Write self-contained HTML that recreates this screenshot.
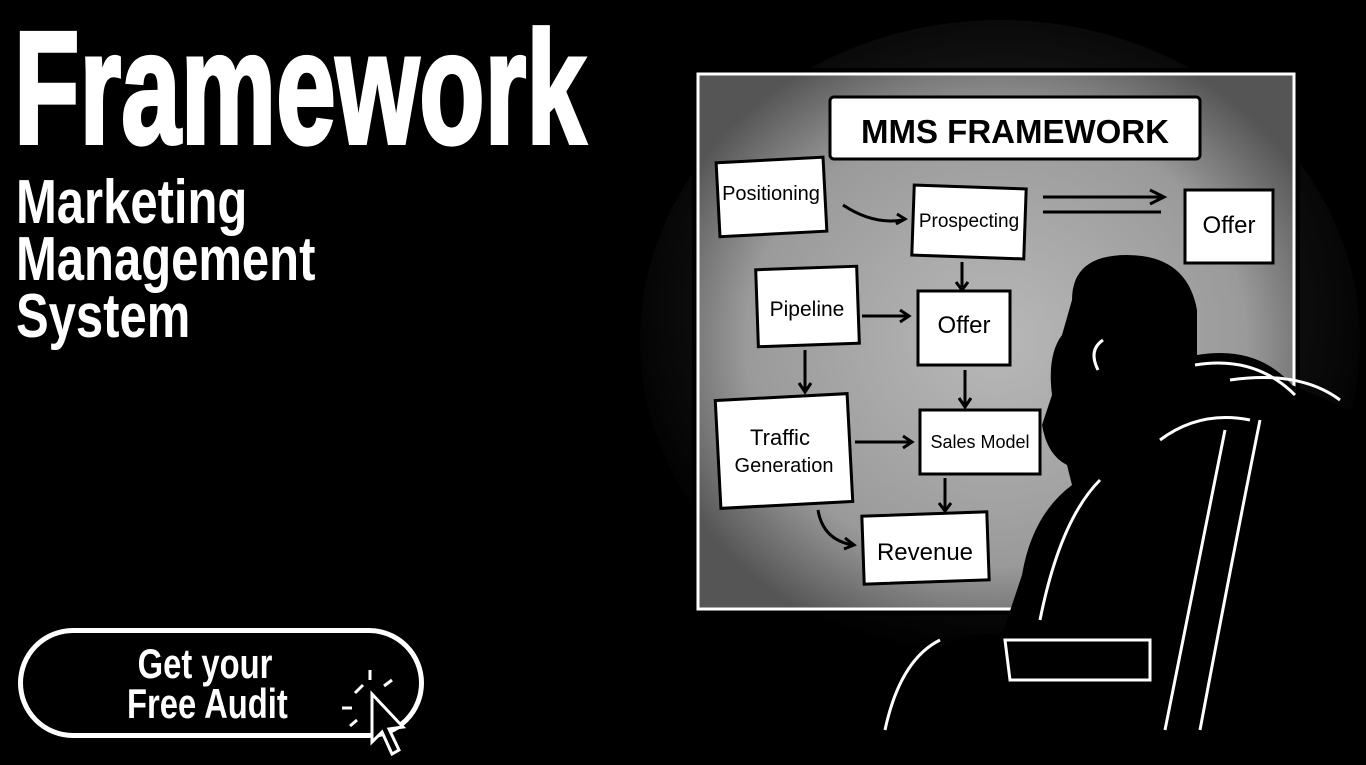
<!DOCTYPE html>
<html><head><meta charset="utf-8"><style>
html,body{margin:0;padding:0;background:#000;width:1366px;height:765px;overflow:hidden}
.t{position:absolute;color:#fff;font-family:"Liberation Sans",sans-serif;font-weight:bold;transform-origin:0 0;white-space:nowrap}
</style></head><body>
<div class="t" style="left:14px;top:8px;font-size:160px;line-height:160px;transform:scaleX(0.67);-webkit-text-stroke:4px #fff">Framework</div>
<div class="t" style="left:16px;top:174px;font-size:62px;line-height:57px;transform:scaleX(0.79)">Marketing<br>Management<br>System</div>
<div style="position:absolute;left:18px;top:628px;width:396px;height:100px;border:5px solid #fff;border-radius:55px"></div>
<div class="t" style="left:105px;top:644px;width:200px;text-align:center;font-size:42px;line-height:40px;transform:scaleX(0.78);transform-origin:50% 0">Get your<br>Free Audit</div>
<svg style="position:absolute;left:0;top:0" width="1366" height="765">
<defs>
<radialGradient id="g" cx="0.5" cy="0.5" r="0.6"><stop offset="0" stop-color="#b8b8b8"/><stop offset="0.7" stop-color="#9a9a9a"/><stop offset="1" stop-color="#555"/></radialGradient>
<radialGradient id="glow" cx="0.5" cy="0.45" r="0.55"><stop offset="0.6" stop-color="#555"/><stop offset="1" stop-color="#000"/></radialGradient>
</defs>
<g stroke="#fff" stroke-width="3" fill="none">
<path d="M355 693l8 -8M370 680v-10M384 686l8-6M352 708h-10M357 720l-7 6"/>
</g>
<path d="M372 694l0 48 10-10 10 22 7-4-10-21 14-2z" fill="#000" stroke="#fff" stroke-width="3"/>
<ellipse cx="1000" cy="340" rx="360" ry="320" fill="url(#glow)" opacity="0.25"/>
<rect x="692" y="68" width="608" height="547" fill="#000"/>
<rect x="698" y="74" width="596" height="535" fill="url(#g)" stroke="#fff" stroke-width="3"/>
<g fill="#fff" stroke="#000" stroke-width="3">
<rect x="830" y="97" width="370" height="62" rx="4"/>
<rect x="718" y="160" width="107" height="74" transform="rotate(-3 771 197)"/>
<rect x="913" y="187" width="112" height="70" transform="rotate(2 969 222)"/>
<rect x="1185" y="190" width="88" height="73"/>
<rect x="757" y="268" width="101" height="77" transform="rotate(-2 807 306)"/>
<rect x="918" y="291" width="92" height="74"/>
<rect x="718" y="397" width="132" height="108" transform="rotate(-3 784 451)"/>
<rect x="920" y="410" width="120" height="64"/>
<rect x="863" y="514" width="125" height="68" transform="rotate(-2 925 548)"/>
</g>
<g font-family="'Liberation Sans',sans-serif" fill="#000" text-anchor="middle">
<text x="1015" y="143" font-size="33" font-weight="bold">MMS FRAMEWORK</text>
<text x="771" y="200" font-size="20">Positioning</text>
<text x="969" y="227" font-size="19">Prospecting</text>
<text x="1229" y="233" font-size="24">Offer</text>
<text x="807" y="316" font-size="21">Pipeline</text>
<text x="964" y="333" font-size="24">Offer</text>
<text x="780" y="445" font-size="22">Traffic</text>
<text x="784" y="472" font-size="20">Generation</text>
<text x="980" y="448" font-size="18">Sales Model</text>
<text x="925" y="560" font-size="24">Revenue</text>
</g>
<g stroke="#000" stroke-width="3" fill="none">
<path d="M843 205q30 20 60 15M897 214l8 5-9 5"/>
<path d="M1043 197h118M1150 190l14 7-14 7"/>
<path d="M1043 212h118"/>
<path d="M862 316h45M900 310l9 6-9 6"/>
<path d="M805 350v40M799 383l6 9 6-9"/>
<path d="M962 262v25M956 282l6 8 6-8"/>
<path d="M965 370v35M959 398l6 9 6-9"/>
<path d="M855 442h55M903 436l9 6-9 6"/>
<path d="M945 478v32M939 503l6 8 6-8"/>
<path d="M818 510q5 30 35 35M845 538l9 7-10 4"/>
</g>
<path d="M1072 300q0-45 55-45q60 0 70 55l0 45q60 -10 95 30l70 30v350h-480l20-70q40-70 100-60l20-60q10-60 50-90l-5-20q-20-10 -25-40l10-30q-5-40 10-60z" fill="#000"/>
<g stroke="#fff" stroke-width="3" fill="none">
<path d="M1103 340q-15 10 -5 30"/>
<path d="M1195 365q60 -10 100 30"/>
<path d="M1230 380q70 -10 110 20"/>
<path d="M1160 440q40 -30 90 -20"/>
<path d="M1225 430l-60 300"/>
<path d="M1260 420q-30 150 -60 310"/>
<path d="M1005 640h145v40h-140z"/>
<path d="M940 640q-40 20 -55 90"/>
<path d="M1100 480q-40 40 -60 140"/>
</g>
</svg>
</body></html>
